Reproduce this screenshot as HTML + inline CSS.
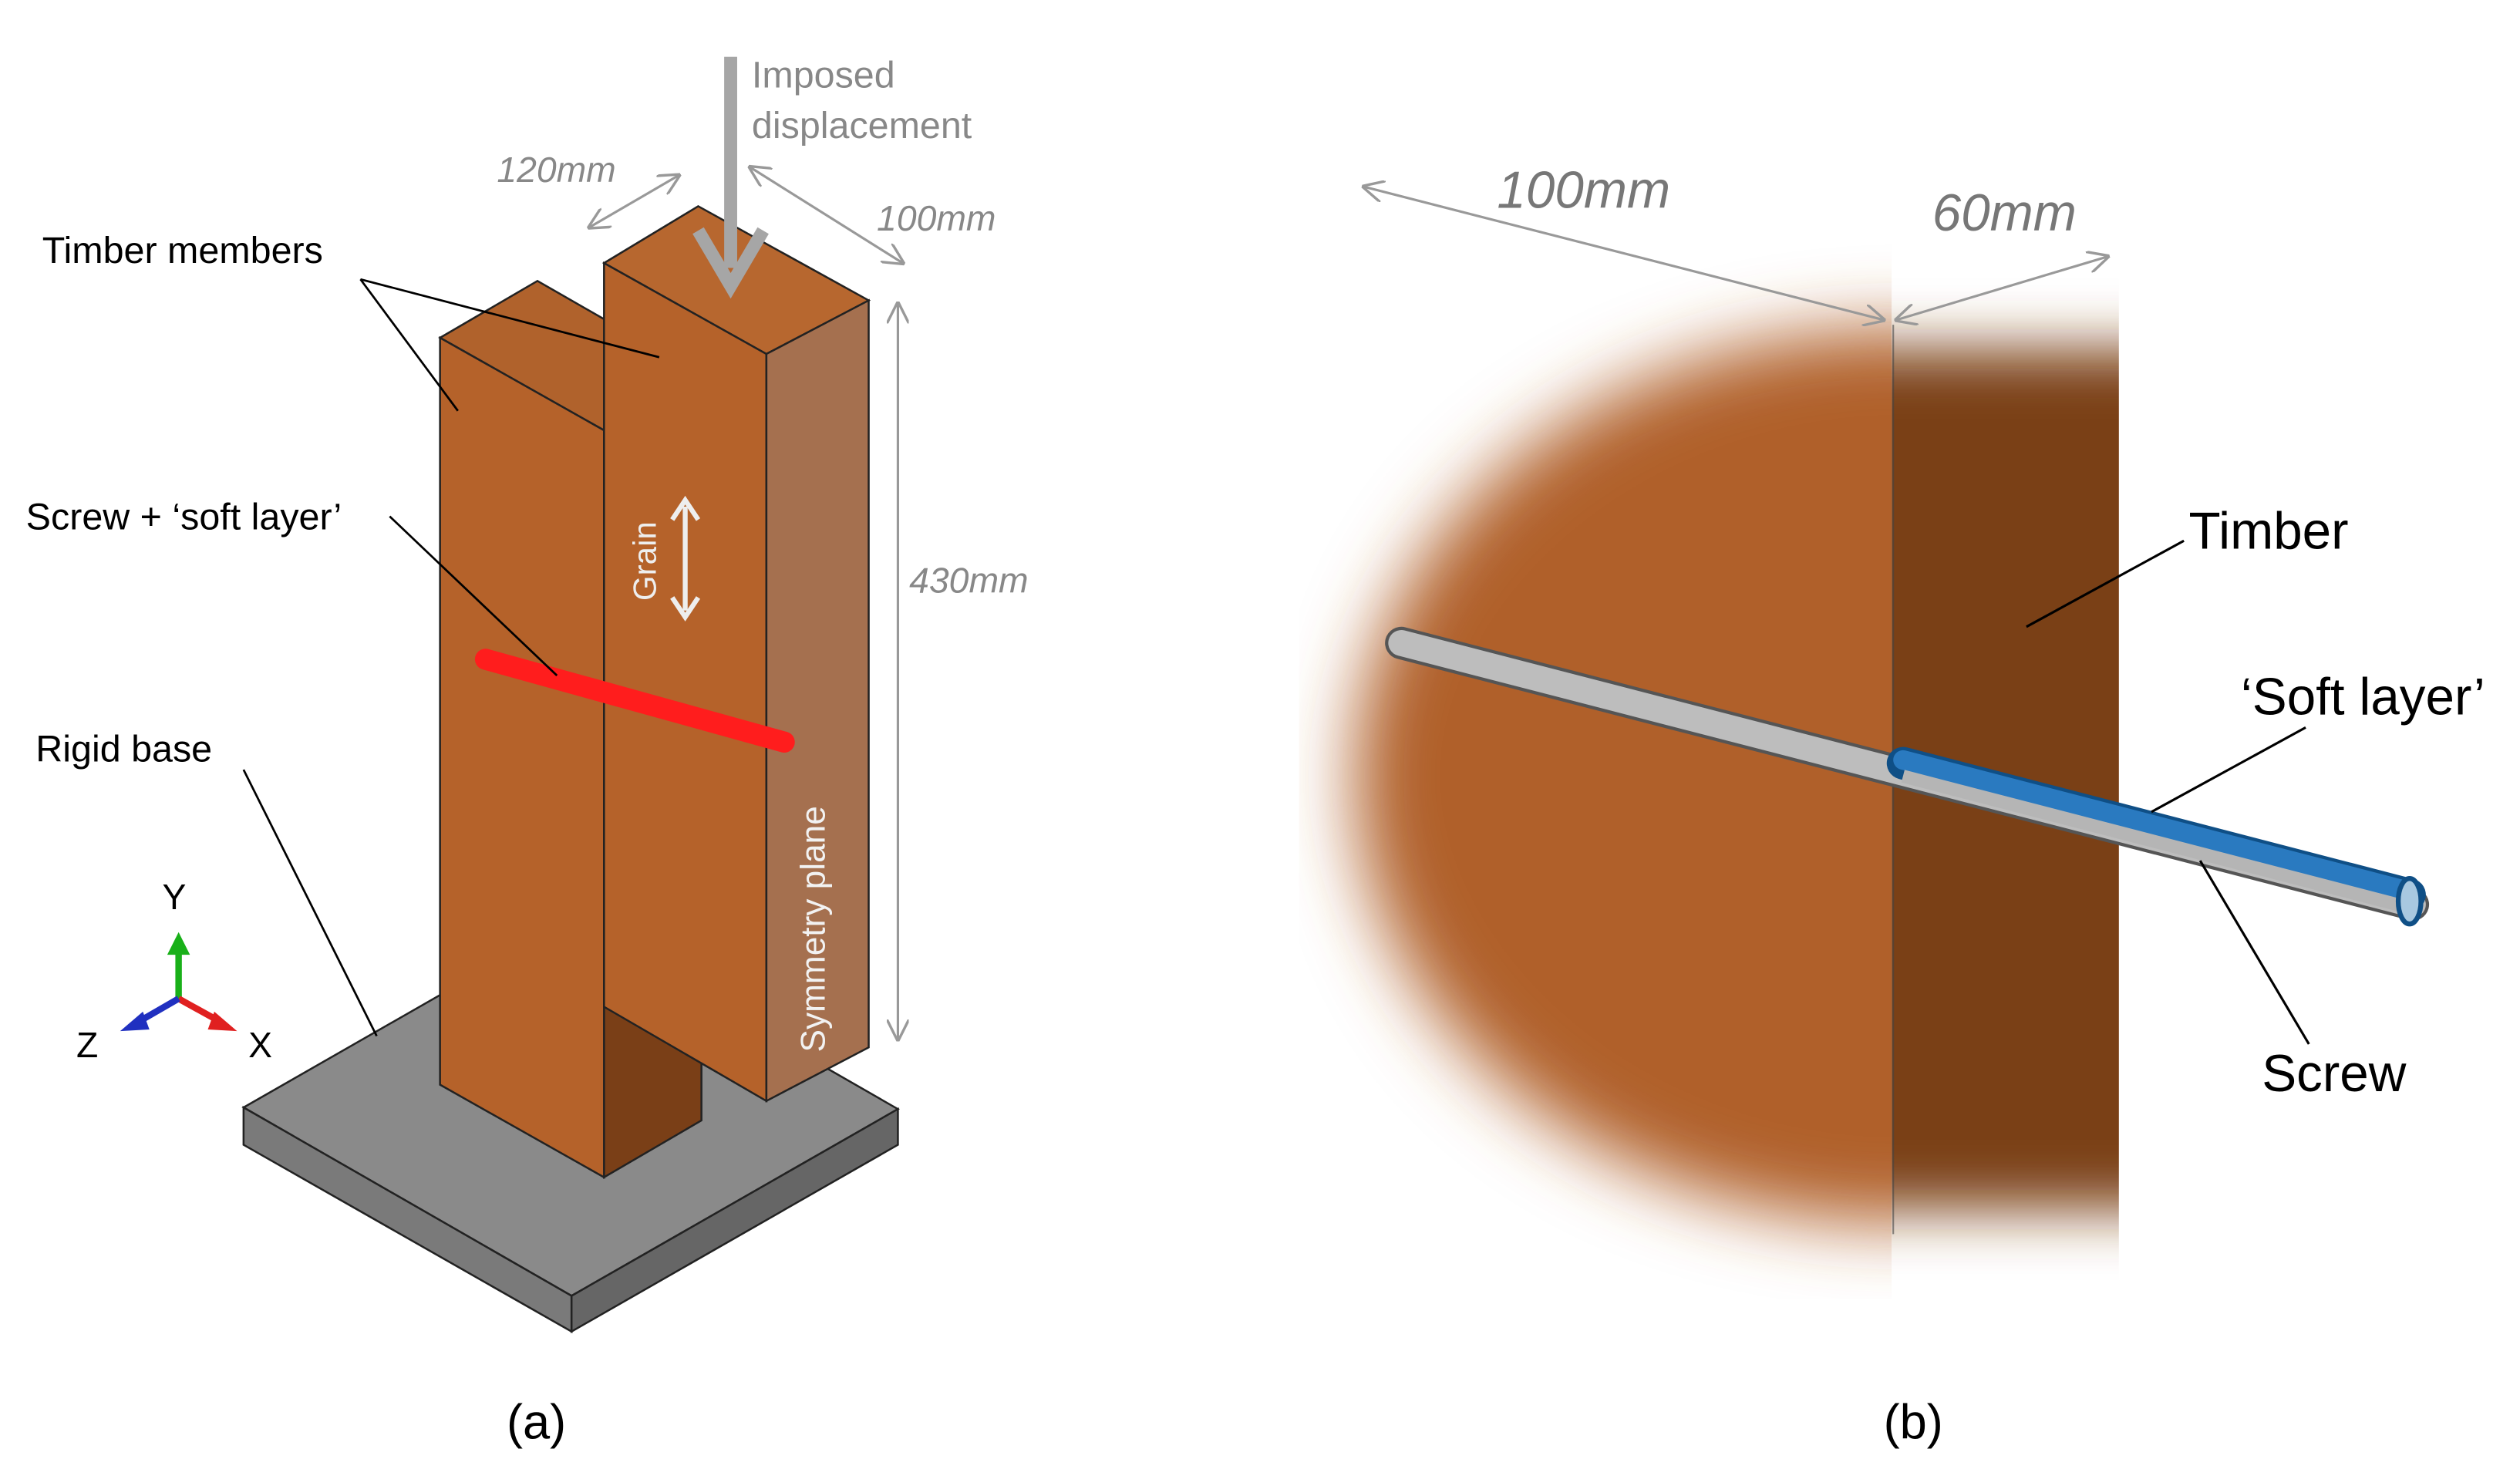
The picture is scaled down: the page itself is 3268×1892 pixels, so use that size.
<!DOCTYPE html>
<html><head><meta charset="utf-8"><style>
html,body{margin:0;padding:0;background:#fff;width:3268px;height:1892px;overflow:hidden}
svg{display:block}
text{font-family:"Liberation Sans",sans-serif}
</style></head><body>
<svg width="3268" height="1892" viewBox="0 0 1552 898.5" preserveAspectRatio="none">
<defs>
<filter id="b1" x="-30%" y="-30%" width="160%" height="160%"><feGaussianBlur stdDeviation="22"/></filter>
<filter id="b2" x="-10%" y="-30%" width="120%" height="160%"><feGaussianBlur stdDeviation="0 18"/></filter>
<clipPath id="cl"><rect x="800" y="150" width="365" height="650"/></clipPath>
<clipPath id="cr"><rect x="1165" y="150" width="140" height="650"/></clipPath>
<marker id="ah" viewBox="0 0 10 10" refX="9" refY="5" markerWidth="9" markerHeight="9" orient="auto-start-reverse"><path d="M0,0 L10,5 L0,10" fill="none" stroke="#999" stroke-width="1.2"/></marker>
</defs>
<!-- (a) base -->
<polygon points="150,682 351,567 553,683 352,798" fill="#8a8a8a" stroke="#222" stroke-width="1.2"/>
<polygon points="150,682 352,798 352,820 150,705" fill="#7a7a7a" stroke="#222" stroke-width="1.2"/>
<polygon points="352,798 553,683 553,705 352,820" fill="#666" stroke="#222" stroke-width="1.2"/>
<!-- left timber -->
<polygon points="372,620 432,588 432,690 372,725" fill="#7a3f17" stroke="#222" stroke-width="1.2"/>
<polygon points="271,208 331,173 392,208 372,265" fill="#b0622c" stroke="#222" stroke-width="1.2"/>
<polygon points="271,208 372,265 372,725 271,668" fill="#b5622a" stroke="#222" stroke-width="1.2"/>
<!-- right timber -->
<polygon points="372,162 430,127 535,185 472,218" fill="#b7672f" stroke="#222" stroke-width="1.2"/>
<polygon points="372,162 472,218 472,678 372,620" fill="#b5622a" stroke="#222" stroke-width="1.2"/>
<polygon points="472,218 535,185 535,645 472,678" fill="#a5704f" stroke="#222" stroke-width="1.2"/>
<!-- screw -->
<line x1="299" y1="406" x2="483" y2="457" stroke="#ff1d1d" stroke-width="13" stroke-linecap="round"/>
<!-- imposed displacement arrow -->
<rect x="446" y="35" width="8" height="130" fill="#a6a6a6"/>
<polyline points="430,142 450,176 470,142" fill="none" stroke="#a6a6a6" stroke-width="8"/>
<!-- grain arrow -->
<line x1="422" y1="312" x2="422" y2="376" stroke="#eee" stroke-width="3"/>
<polyline points="414,320 422,308 430,320" fill="none" stroke="#eee" stroke-width="3"/>
<polyline points="414,368 422,380 430,368" fill="none" stroke="#eee" stroke-width="3"/>
<text x="0" y="0" transform="translate(404,370) rotate(-90)" font-size="20" fill="#eee">Grain</text>
<text x="0" y="0" transform="translate(508,648) rotate(-90)" font-size="21" fill="#f2f2f2">Symmetry plane</text>
<!-- dims -->
<line x1="363" y1="140" x2="418" y2="108" stroke="#999" stroke-width="1.5" marker-start="url(#ah)" marker-end="url(#ah)"/>
<line x1="462" y1="103" x2="556" y2="162" stroke="#999" stroke-width="1.5" marker-start="url(#ah)" marker-end="url(#ah)"/>
<line x1="553" y1="187" x2="553" y2="640" stroke="#999" stroke-width="1.5" marker-start="url(#ah)" marker-end="url(#ah)"/>
<text x="306" y="112" font-size="22" font-style="italic" fill="#888">120mm</text>
<text x="540" y="142" font-size="22" font-style="italic" fill="#888">100mm</text>
<text x="560" y="365" font-size="22" font-style="italic" fill="#888">430mm</text>
<text x="463" y="54" font-size="23" fill="#888">Imposed</text>
<text x="463" y="85" font-size="23" fill="#888">displacement</text>
<!-- labels -->
<text x="26" y="162" font-size="23" fill="#000">Timber members</text>
<line x1="222" y1="172" x2="282" y2="253" stroke="#000" stroke-width="1.3"/>
<line x1="222" y1="172" x2="406" y2="220" stroke="#000" stroke-width="1.3"/>
<text x="16" y="326" font-size="23" fill="#000">Screw + ‘soft layer’</text>
<line x1="240" y1="318" x2="343" y2="416" stroke="#000" stroke-width="1.3"/>
<text x="22" y="469" font-size="23" fill="#000">Rigid base</text>
<line x1="150" y1="474" x2="232" y2="638" stroke="#000" stroke-width="1.3"/>
<!-- axes -->
<line x1="110" y1="615" x2="110" y2="583" stroke="#19b019" stroke-width="4"/>
<polygon points="103,588 110,574 117,588" fill="#19b019"/>
<line x1="110" y1="615" x2="137" y2="630" stroke="#e02020" stroke-width="4"/>
<polygon points="132,623 146,635 128,634" fill="#e02020"/>
<line x1="110" y1="615" x2="84" y2="630" stroke="#2030c0" stroke-width="4"/>
<polygon points="88,623 74,635 92,634" fill="#2030c0"/>
<text x="100" y="560" font-size="22" fill="#000">Y</text>
<text x="153" y="651" font-size="22" fill="#000">X</text>
<text x="47" y="651" font-size="22" fill="#000">Z</text>
<text x="312" y="886" font-size="30" font-family="Liberation Serif" fill="#000">(a)</text>
<!-- (b) -->
<g clip-path="url(#cl)"><ellipse cx="1170" cy="478" rx="335" ry="275" fill="#b0602a" filter="url(#b1)"/></g>
<g clip-path="url(#cr)"><rect x="1165" y="215" width="140" height="530" fill="#7a4019" filter="url(#b2)"/></g>
<line x1="1166" y1="200" x2="1166" y2="760" stroke="#444" stroke-width="1" opacity="0.6"/>
<line x1="863" y1="396" x2="1486" y2="557" stroke="#555" stroke-width="20" stroke-linecap="round"/>
<line x1="863" y1="396" x2="1486" y2="557" stroke="#bdbdbd" stroke-width="16" stroke-linecap="round"/>
<line x1="1172" y1="470" x2="1484" y2="551" stroke="#0f4f86" stroke-width="20" stroke-linecap="round"/>
<line x1="1172" y1="468" x2="1484" y2="549" stroke="#2a7ac0" stroke-width="12" stroke-linecap="round"/>
<line x1="1172" y1="478" x2="1484" y2="559" stroke="#b5b5b5" stroke-width="8"/>
<ellipse cx="1484" cy="555" rx="7" ry="14" fill="#a8c8e0" stroke="#0f4f86" stroke-width="3"/>
<line x1="840" y1="115" x2="1160" y2="197" stroke="#999" stroke-width="1.5" marker-start="url(#ah)" marker-end="url(#ah)"/>
<line x1="1168" y1="197" x2="1298" y2="158" stroke="#999" stroke-width="1.5" marker-start="url(#ah)" marker-end="url(#ah)"/>
<text x="922" y="128" font-size="32" font-style="italic" fill="#777">100mm</text>
<text x="1190" y="142" font-size="32" font-style="italic" fill="#777">60mm</text>
<text x="1348" y="338" font-size="32" fill="#000">Timber</text>
<line x1="1345" y1="333" x2="1248" y2="386" stroke="#000" stroke-width="1.5"/>
<text x="1380" y="440" font-size="32" fill="#000">‘Soft layer’</text>
<line x1="1420" y1="448" x2="1325" y2="500" stroke="#000" stroke-width="1.5"/>
<text x="1393" y="672" font-size="32" fill="#000">Screw</text>
<line x1="1422" y1="643" x2="1355" y2="530" stroke="#000" stroke-width="1.5"/>
<text x="1160" y="886" font-size="30" font-family="Liberation Serif" fill="#000">(b)</text>
</svg>
</body></html>
